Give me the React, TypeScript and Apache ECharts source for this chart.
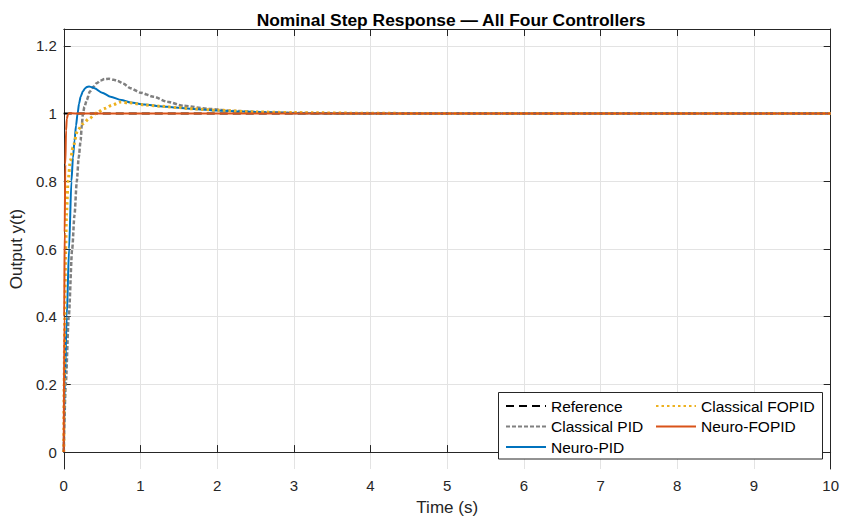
import React, { useEffect, useRef } from "react";
import * as echarts from "echarts";

const xTicks = [0, 1, 2, 3, 4, 5, 6, 7, 8, 9, 10];
const yTicks = [0, 0.2, 0.4, 0.6, 0.8, 1, 1.2];

const refT = [0, 10];
const refY = [1, 1];

const cpidT = [0, 0.026, 0.065, 0.11, 0.14, 0.17, 0.195, 0.22, 0.235, 0.25, 0.27, 0.3, 0.34, 0.39, 0.43, 0.48, 0.53, 0.59, 0.65, 0.7, 0.78, 0.87, 1.0, 1.17, 1.35, 1.56, 1.9, 2.2, 2.6, 3.0, 3.5, 4, 10];
const cpidY = [0, 0.2, 0.4, 0.6, 0.7, 0.8, 0.87, 0.92, 0.965, 1.0, 1.02, 1.04, 1.065, 1.08, 1.09, 1.098, 1.102, 1.103, 1.1, 1.097, 1.088, 1.075, 1.062, 1.05, 1.035, 1.023, 1.014, 1.008, 1.004, 1.002, 1.0005, 1, 1];

const npidT = [0, 0.013, 0.039, 0.069, 0.1, 0.12, 0.14, 0.16, 0.18, 0.2, 0.22, 0.25, 0.28, 0.3, 0.33, 0.37, 0.4, 0.5, 0.61, 0.75, 0.87, 1.05, 1.25, 1.45, 1.69, 2.0, 2.33, 2.7, 3.2, 4, 10];
const npidY = [0, 0.2, 0.4, 0.6, 0.8, 0.87, 0.92, 0.965, 1.0, 1.03, 1.05, 1.066, 1.075, 1.079, 1.08, 1.078, 1.075, 1.062, 1.05, 1.04, 1.033, 1.027, 1.022, 1.018, 1.014, 1.009, 1.006, 1.003, 1.001, 1, 1];

const cfopidT = [0, 0.005, 0.013, 0.026, 0.035, 0.056, 0.085, 0.12, 0.18, 0.25, 0.33, 0.43, 0.53, 0.63, 0.74, 0.85, 1.04, 1.25, 1.47, 1.7, 2.0, 2.5, 3.0, 4, 5, 10];
const cfopidY = [0, 0.2, 0.4, 0.6, 0.7, 0.8, 0.86, 0.9, 0.95, 0.97, 0.985, 1.002, 1.015, 1.025, 1.034, 1.032, 1.026, 1.022, 1.018, 1.014, 1.01, 1.005, 1.003, 1.001, 1, 1];

const nfopidT = [0, 0.006, 0.012, 0.02, 0.03, 0.04, 0.055, 0.075, 0.1, 0.2, 10];
const nfopidY = [0, 0.4, 0.65, 0.85, 0.95, 0.985, 0.998, 1.002, 1.001, 1, 1];

const pairs = (t: number[], y: number[]) => t.map((v, i) => [v, y[i]]);

const FONT = "'Liberation Sans', Arial, Helvetica, sans-serif";
const AX = "#262626";

export default function App() {
  const ref = useRef<HTMLDivElement>(null);
  useEffect(() => {
    const chart = echarts.init(ref.current!, null, { renderer: "svg" });
    const tickCommon = { inside: true, length: 7, lineStyle: { color: AX, width: 1 } };
    const legendCommon = {
      orient: "vertical", top: 397,
      itemWidth: 40, itemHeight: 14, itemGap: 2.5, padding: 0,
      itemStyle: { opacity: 0 },
      textStyle: { fontFamily: FONT, fontSize: 15.5, color: "#000", lineHeight: 18 },
    };
    const option: any = {
      animation: false,
      backgroundColor: "#ffffff",
      textStyle: { fontFamily: FONT },
      title: {
        text: "Nominal Step Response — All Four Controllers",
        left: 446,
        top: 6,
        textAlign: "center",
        textStyle: { fontFamily: FONT, fontSize: 17.4, fontWeight: "bold", color: "#000" },
      },
      grid: { left: 60, right: 9, top: 29, bottom: 51, containLabel: false },
      xAxis: [
        {
          type: "value", min: 0, max: 10, interval: 1, position: "bottom",
          name: "Time (s)", nameLocation: "middle", nameGap: 30,
          nameTextStyle: { fontFamily: FONT, fontSize: 17, color: AX },
          axisLine: { show: true, lineStyle: { color: AX, width: 1 } },
          axisTick: tickCommon,
          axisLabel: { fontFamily: FONT, fontSize: 15, color: AX, margin: 9 },
          splitLine: { show: true, lineStyle: { color: "#e3e3e3", width: 1 } },
        },
        {
          type: "value", min: 0, max: 10, interval: 1, position: "top",
          axisLine: { show: true, onZero: false, lineStyle: { color: AX, width: 1 } },
          axisTick: tickCommon,
          axisLabel: { show: false },
          splitLine: { show: false },
        },
      ],
      yAxis: [
        {
          type: "value", min: -0.05, max: 1.25, position: "left",
          name: "Output y(t)", nameLocation: "middle", nameGap: 32,
          nameTextStyle: { fontFamily: FONT, fontSize: 17, color: AX },
          axisLine: { show: true, onZero: false, lineStyle: { color: AX, width: 1 } },
          axisTick: { ...tickCommon, customValues: yTicks },
          axisLabel: { fontFamily: FONT, fontSize: 15, color: AX, margin: 7, customValues: yTicks },
          splitLine: { show: true, lineStyle: { color: "#e3e3e3", width: 1 } },
        },
        {
          type: "value", min: -0.05, max: 1.25, position: "right",
          axisLine: { show: true, onZero: false, lineStyle: { color: AX, width: 1 } },
          axisTick: { ...tickCommon, customValues: yTicks },
          axisLabel: { show: false, customValues: yTicks },
          splitLine: { show: false },
        },
      ],
      legend: [
        { ...legendCommon, data: ["Reference", "Classical PID", "Neuro-PID"], left: 505 },
        { ...legendCommon, data: ["Classical FOPID", "Neuro-FOPID"], left: 655 },
      ],
      graphic: [
        {
          type: "rect", z: 3, silent: true,
          shape: { x: 498.5, y: 392.5, width: 324, height: 66.5 },
          style: { fill: "#ffffff", stroke: AX, lineWidth: 1 },
        },
      ],
      series: [
        {
          name: "Reference", type: "line", data: pairs(refT, refY), showSymbol: false, symbol: "none",
          lineStyle: { color: "#000000", width: 2, type: [8, 5] }, itemStyle: { color: "#000000" },
        },
        {
          name: "Classical PID", type: "line", data: pairs(cpidT, cpidY), showSymbol: false, symbol: "none",
          smooth: 0.25, smoothMonotone: "x",
          lineStyle: { color: "#808080", width: 2.5, type: [4, 2] }, itemStyle: { color: "#808080" },
        },
        {
          name: "Neuro-PID", type: "line", data: pairs(npidT, npidY), showSymbol: false, symbol: "none",
          smooth: 0.25, smoothMonotone: "x",
          lineStyle: { color: "#0072BD", width: 2 }, itemStyle: { color: "#0072BD" },
        },
        {
          name: "Classical FOPID", type: "line", data: pairs(cfopidT, cfopidY), showSymbol: false, symbol: "none",
          smooth: 0.25, smoothMonotone: "x",
          lineStyle: { color: "#EDB120", width: 3, type: [2.5, 3] }, itemStyle: { color: "#EDB120" },
        },
        {
          name: "Neuro-FOPID", type: "line", data: pairs(nfopidT, nfopidY), showSymbol: false, symbol: "none",
          smooth: 0.25, smoothMonotone: "x",
          lineStyle: { color: "#D95319", width: 2 }, itemStyle: { color: "#D95319" },
        },
      ],
    };
    chart.setOption(option);
    return () => chart.dispose();
  }, []);
  return <div ref={ref} style={{ width: 842, height: 521, position: "absolute", left: 0, top: 0 }} />;
}
